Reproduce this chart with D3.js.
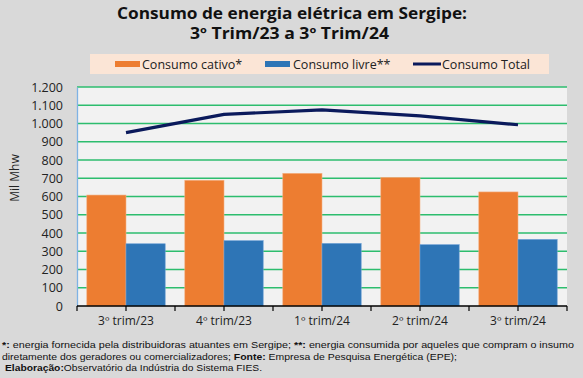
<!DOCTYPE html>
<html><head><meta charset="utf-8">
<script src="https://cdn.jsdelivr.net/npm/d3@7"></script>
<style>body{margin:0;background:#d9d9d9}svg{display:block}</style>
</head><body><svg id="c" width="583" height="378"></svg>
<script>
const categories = ["3º trim/23","4º trim/23","1º trim/24","2º trim/24","3º trim/24"];
const cativo = [608, 689, 727, 705, 625];
const livre = [341, 358, 343, 336, 365];
const total = [950, 1050, 1075, 1042, 993];
const yTicks = [0,100,200,300,400,500,600,700,800,900,1000,1100,1200];

const svg = d3.select("#c");
const F = "'Open Sans', sans-serif";
svg.append("rect").attr("width",583).attr("height",378).attr("fill","#d9d9d9");

const m = {l:77, r:567, t:87, b:306};
const x = d3.scaleBand().domain(categories).range([m.l, m.r]).paddingInner(0.2).paddingOuter(0.1);
const x0 = d3.scaleBand().domain(categories).range([m.l, m.r]);
const y = d3.scaleLinear().domain([0,1200]).range([m.b, m.t]);

svg.append("rect").attr("x",m.l).attr("y",m.t).attr("width",m.r-m.l).attr("height",m.b-m.t).attr("fill","#f2f2f2");

// grid
svg.append("g").selectAll("line").data(yTicks.filter(d=>d>0)).join("line")
  .attr("x1",m.l).attr("x2",m.r).attr("y1",d=>y(d)).attr("y2",d=>y(d))
  .attr("stroke","#2dbd6e").attr("stroke-width",1.3);

// y axis
const ya = svg.append("g").attr("transform",`translate(${m.l},0)`)
  .call(d3.axisLeft(y).tickValues(yTicks).tickSize(0).tickPadding(14)
    .tickFormat(d=>d3.format(",")(d).replace(/,/g,".")));
ya.select(".domain").attr("stroke","#7fb2e5").attr("stroke-width",1.3);
ya.selectAll("text").attr("font-family",F).attr("font-size",12.5).attr("fill","#222");

// bars
const sub = d3.scaleBand().domain(["c","l"]).range([0, x.bandwidth()]);
const g = svg.append("g");
g.selectAll(".bc").data(categories).join("rect")
  .attr("x",d=>x(d)+sub("c")).attr("width",sub.bandwidth())
  .attr("y",(d,i)=>y(cativo[i])).attr("height",(d,i)=>m.b-y(cativo[i]))
  .attr("fill","#ed7d31").attr("stroke","#f4b183").attr("stroke-width",0.6);
g.selectAll(".bl").data(categories).join("rect")
  .attr("x",d=>x(d)+sub("l")).attr("width",sub.bandwidth())
  .attr("y",(d,i)=>y(livre[i])).attr("height",(d,i)=>m.b-y(livre[i]))
  .attr("fill","#2e75b6").attr("stroke","#6fa1d6").attr("stroke-width",0.6);

// line
const line = d3.line().x((d,i)=>x0(categories[i])+x0.bandwidth()/2).y(d=>y(d));
svg.append("path").datum(total).attr("d",line).attr("fill","none")
  .attr("stroke","#0b1a5c").attr("stroke-width",3.2).attr("stroke-linejoin","round");

// x axis
const xa = svg.append("g").attr("transform",`translate(0,${m.b})`);
xa.append("line").attr("x1",m.l).attr("x2",m.r).attr("stroke","#000").attr("stroke-width",1.3);
const tickPos = [];
categories.forEach(c=>{tickPos.push(x0(c)); tickPos.push(x0(c)+x0.bandwidth()/2);});
tickPos.push(m.r);
xa.selectAll(".t").data(tickPos).join("line").attr("x1",d=>d).attr("x2",d=>d).attr("y1",0).attr("y2",5)
  .attr("stroke","#000").attr("stroke-width",1.2);
xa.selectAll("text").data(categories).join("text")
  .attr("x",d=>x0(d)+x0.bandwidth()/2).attr("y",19).attr("text-anchor","middle")
  .attr("font-family",F).attr("font-size",12).attr("fill","#222").text(d=>d);

// y title
svg.append("text").attr("transform","translate(19,178) rotate(-90)").attr("text-anchor","middle")
  .attr("font-family",F).attr("font-size",12).attr("fill","#222").text("Mil Mhw");

// title
svg.append("text").attr("x",117).attr("y",19).attr("font-family",F)
  .attr("font-weight","bold").attr("font-size",16).attr("fill","#111")
  .attr("textLength",350).attr("lengthAdjust","spacingAndGlyphs").text("Consumo de energia elétrica em Sergipe:");
svg.append("text").attr("x",190).attr("y",39).attr("font-family",F)
  .attr("font-weight","bold").attr("font-size",16).attr("fill","#111")
  .attr("textLength",199).attr("lengthAdjust","spacingAndGlyphs").text("3º Trim/23 a 3º Trim/24");

// legend
svg.append("rect").attr("x",90).attr("y",54).attr("width",459).attr("height",20).attr("fill","#fbe5d6");
const leg = [
  {t:"Consumo cativo*", c:"#ed7d31", x:115, tx:142, type:"rect"},
  {t:"Consumo livre**", c:"#2e75b6", x:265, tx:293, type:"rect"},
  {t:"Consumo Total", c:"#0b1a5c", x:413, tx:442, type:"line"}
];
leg.forEach(d=>{
  if(d.type==="rect") svg.append("rect").attr("x",d.x).attr("y",61).attr("width",25).attr("height",6).attr("fill",d.c);
  else svg.append("line").attr("x1",d.x).attr("x2",d.x+28).attr("y1",64).attr("y2",64).attr("stroke",d.c).attr("stroke-width",3);
  svg.append("text").attr("x",d.tx).attr("y",68.5).attr("font-family",F).attr("font-size",12.5).attr("fill","#222").text(d.t);
});

// footnote
const FN = "'Liberation Sans', Arial, sans-serif";
const notes = [
  {y:348, len:572, parts:[["*:",1],[" energia fornecida pela distribuidoras atuantes em Sergipe; ",0],["**:",1],[" energia consumida por aqueles que compram o insumo",0]]},
  {y:359.5, len:455, parts:[["diretamente dos geradores ou comercializadores; ",0],["Fonte:",1],[" Empresa de Pesquisa Energética (EPE);",0]]},
  {y:371, len:257, x:5, parts:[["Elaboração:",1],["Observatório da Indústria do Sistema FIES.",0]]}
];
notes.forEach(n=>{
  const t = svg.append("text").attr("x",n.x||2).attr("y",n.y).attr("font-family",FN).attr("font-size",9.8)
    .attr("fill","#111").attr("textLength",n.len).attr("lengthAdjust","spacingAndGlyphs");
  n.parts.forEach(p=>t.append("tspan").attr("font-weight",p[1]?"bold":"normal").text(p[0]));
});
</script></body></html>
